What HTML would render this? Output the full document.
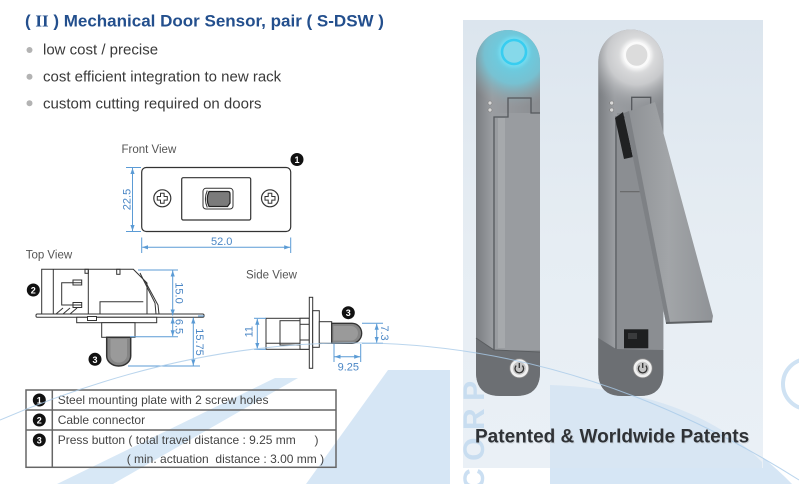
<!DOCTYPE html>
<html><head><meta charset="utf-8"><style>
html,body{margin:0;padding:0;background:#fff;}
svg{display:block;font-family:"Liberation Sans",Arial,sans-serif;}
</style></head><body>
<svg width="799" height="484" viewBox="0 0 799 484" xmlns="http://www.w3.org/2000/svg">
<defs>
 <marker id="ar" markerUnits="userSpaceOnUse" markerWidth="6" markerHeight="6" refX="6" refY="3" orient="auto-start-reverse"><path d="M0,0.9 L6,3 L0,5.1 z" fill="#5b9bd5"/></marker>
 <linearGradient id="pbg" x1="0" y1="0" x2="0" y2="1"><stop offset="0" stop-color="#dce5ee"/><stop offset="0.5" stop-color="#e6edf3"/><stop offset="1" stop-color="#eaf0f6"/></linearGradient>
 <linearGradient id="body2" x1="0" y1="0" x2="1" y2="0"><stop offset="0" stop-color="#7a7d81"/><stop offset="0.25" stop-color="#9a9da1"/><stop offset="1" stop-color="#8a8d91"/></linearGradient>
 <linearGradient id="lever" x1="0" y1="0" x2="1" y2="0"><stop offset="0" stop-color="#8c8f93"/><stop offset="0.5" stop-color="#a2a5a8"/><stop offset="1" stop-color="#8f9296"/></linearGradient>
 <radialGradient id="cy" gradientUnits="userSpaceOnUse" cx="514" cy="54" r="54"><stop offset="0" stop-color="#5fd6ee"/><stop offset="0.55" stop-color="#74c6d8" stop-opacity="0.9"/><stop offset="1" stop-color="#9a9da1" stop-opacity="0"/></radialGradient>
 <radialGradient id="wh" gradientUnits="userSpaceOnUse" cx="637" cy="55" r="54"><stop offset="0" stop-color="#f2f2f2"/><stop offset="0.55" stop-color="#cfd0d2" stop-opacity="0.9"/><stop offset="1" stop-color="#9a9da1" stop-opacity="0"/></radialGradient>
 <filter id="gl" x="-50%" y="-50%" width="200%" height="200%"><feGaussianBlur stdDeviation="1.6"/></filter>
</defs>

<!-- watermark shapes -->
<polygon points="57,484 275,378 298,378 113,484" fill="#d8e8f6"/>
<polygon points="306,484 388,370 450,370 450,484" fill="#d6e6f5"/>
<path d="M550,484 L550,385 Q700,390 792,484 Z" fill="#d6e6f5"/>
<circle cx="808" cy="384" r="25" fill="none" stroke="#cfe2f3" stroke-width="4"/>

<!-- Title -->
<text x="25" y="26.5" font-size="17" font-weight="bold" fill="#234f8d">( <tspan font-family="Liberation Serif, serif">II</tspan> ) Mechanical Door Sensor, pair ( S-DSW )</text>
<circle cx="29.5" cy="50" r="3" fill="#b3b3b3"/>
<circle cx="29.5" cy="76.7" r="3" fill="#b3b3b3"/>
<circle cx="29.5" cy="103.3" r="3" fill="#b3b3b3"/>
<text x="43" y="54.5" font-size="15" fill="#3a3a3a">low cost / precise</text>
<text x="43" y="81.5" font-size="15" fill="#3a3a3a">cost efficient integration to new rack</text>
<text x="43" y="108.3" font-size="15" fill="#3a3a3a">custom cutting required on doors</text>

<!-- Front view -->
<text x="121.5" y="153" font-size="11.5" fill="#555">Front View</text>
<circle cx="297" cy="159.5" r="6.5" fill="#111"/>
<text x="297" y="163" font-size="9" font-weight="bold" fill="#fff" text-anchor="middle">1</text>
<rect x="141.7" y="167.5" width="149" height="64" rx="4.5" fill="#fff" stroke="#333" stroke-width="1.2"/>
<rect x="181.7" y="177.7" width="69" height="42.3" rx="1.5" fill="none" stroke="#333" stroke-width="1.2"/>
<rect x="203" y="188.3" width="30" height="20.7" rx="3" fill="#fff" stroke="#333" stroke-width="1"/>
<path d="M209,191.5 H228 Q230,191.5 230,194 V203 L227.5,206.5 H209 Q205.5,199 209,191.5 Z" fill="#7b7b7b" stroke="#222" stroke-width="1.2"/>
<path d="M207.3,190.5 Q203.5,199 207.3,207.5" fill="none" stroke="#333" stroke-width="1"/>
<circle cx="162.3" cy="198.3" r="8.5" fill="#fff" stroke="#333" stroke-width="1.2"/>
<path d="M160.5,193.3 h3.6 v3.2 h3.2 v3.6 h-3.2 v3.2 h-3.6 v-3.2 h-3.2 v-3.6 h3.2 Z" fill="#fff" stroke="#333" stroke-width="1"/>
<circle cx="270" cy="198.3" r="8.5" fill="#fff" stroke="#333" stroke-width="1.2"/>
<path d="M268.2,193.3 h3.6 v3.2 h3.2 v3.6 h-3.2 v3.2 h-3.6 v-3.2 h-3.2 v-3.6 h3.2 Z" fill="#fff" stroke="#333" stroke-width="1"/>
<g stroke="#5b9bd5" stroke-width="1" fill="none">
 <line x1="126" y1="167.5" x2="141" y2="167.5"/>
 <line x1="126" y1="231.5" x2="141" y2="231.5"/>
 <line x1="132.5" y1="168" x2="132.5" y2="231" marker-start="url(#ar)" marker-end="url(#ar)"/>
 <line x1="141.7" y1="237.5" x2="141.7" y2="253"/>
 <line x1="290.7" y1="237.5" x2="290.7" y2="253"/>
 <line x1="142.2" y1="247.3" x2="290.2" y2="247.3" marker-start="url(#ar)" marker-end="url(#ar)"/>
</g>
<text transform="translate(130.5,199.5) rotate(-90)" font-size="11" fill="#4a86c5" text-anchor="middle">22.5</text>
<text x="221.7" y="245" font-size="11" fill="#4a86c5" text-anchor="middle">52.0</text>

<!-- Top view -->
<text x="25.7" y="258.3" font-size="11.5" fill="#555">Top View</text>
<circle cx="33.3" cy="290" r="6.5" fill="#111"/>
<text x="33.3" y="293.5" font-size="9" font-weight="bold" fill="#fff" text-anchor="middle">2</text>
<g stroke="#333" stroke-width="1" fill="none">
 <path d="M41.7,313.5 V269.3 H133.3 L147,283 V314" fill="#fff"/>
 <line x1="53.3" y1="269.3" x2="53.3" y2="314"/>
 <path d="M81.7,282.7 H61.7 V305 H81.7"/>
 <rect x="73" y="280" width="8.7" height="5"/>
 <rect x="73" y="302.5" width="8.7" height="5"/>
 <line x1="88.3" y1="269.3" x2="88.3" y2="314"/>
 <rect x="85" y="269.3" width="3.3" height="4"/>
 <rect x="116.7" y="269.3" width="3.3" height="5"/>
 <path d="M100,314 V301.7 H143.3"/>
 <path d="M140,273 L155,303 L156,314"/>
 <path d="M145,281 L158,305 L159,314"/>
 <line x1="56" y1="314" x2="63" y2="308"/>
 <line x1="63" y1="314" x2="70" y2="308"/>
 <line x1="70" y1="314" x2="77" y2="308"/>
 <rect x="36" y="314" width="168" height="3.3" rx="1.3" fill="#fff"/>
 <rect x="76.7" y="317.3" width="80" height="5.4" fill="#fff"/>
 <rect x="87.5" y="316.5" width="9" height="4" fill="#fff"/>
 <rect x="101.7" y="322.7" width="33.3" height="14.6" fill="#fff"/>
</g>
<path d="M106.7,337.3 V356 A12,10 0 0 0 130.7,356 V337.3 Z" fill="#858585" stroke="#333" stroke-width="1.5"/>
<path d="M110.5,339 V355 A8.2,7.5 0 0 0 127,355 V339 Z" fill="#9a9a9a"/>
<circle cx="95" cy="359.3" r="6.5" fill="#111"/>
<text x="95" y="362.8" font-size="9" font-weight="bold" fill="#fff" text-anchor="middle">3</text>
<g stroke="#5b9bd5" stroke-width="1" fill="none">
 <line x1="138" y1="270" x2="178" y2="270"/>
 <line x1="204" y1="316" x2="198" y2="316"/>
 <line x1="130" y1="336.7" x2="178" y2="336.7"/>
 <line x1="128" y1="366" x2="200" y2="366"/>
 <line x1="172.7" y1="270.5" x2="172.7" y2="315.5" marker-start="url(#ar)" marker-end="url(#ar)"/>
 <line x1="172.7" y1="317.5" x2="172.7" y2="336.2" marker-start="url(#ar)" marker-end="url(#ar)"/>
 <line x1="193.3" y1="317.5" x2="193.3" y2="365.5" marker-start="url(#ar)" marker-end="url(#ar)"/>
</g>
<text transform="translate(175.5,293) rotate(90)" font-size="11" fill="#4a86c5" text-anchor="middle">15.0</text>
<text transform="translate(175.5,326.5) rotate(90)" font-size="11" fill="#4a86c5" text-anchor="middle">6.5</text>
<text transform="translate(196,342) rotate(90)" font-size="11" fill="#4a86c5" text-anchor="middle">15.75</text>

<!-- Side view -->
<text x="246" y="278.3" font-size="11.5" fill="#555">Side View</text>
<g stroke="#333" stroke-width="1" fill="#fff">
 <rect x="266" y="318.3" width="43.3" height="31"/>
 <rect x="280" y="320.7" width="20" height="24.3"/>
 <line x1="266" y1="343.3" x2="301.7" y2="343.3"/>
 <rect x="300" y="318.3" width="9.3" height="6"/>
 <rect x="300" y="340" width="9.3" height="9.3"/>
 <rect x="309.3" y="297.3" width="3.4" height="71"/>
 <rect x="312.7" y="310.7" width="6.6" height="36.6"/>
 <rect x="319.3" y="321.7" width="12.4" height="21.6"/>
</g>
<path d="M331.7,323.3 H352 A9.7,10 0 0 1 352,343.3 H331.7 Z" fill="#858585" stroke="#333" stroke-width="1.3"/>
<path d="M333.5,326 H351 A7,7.3 0 0 1 351,340.6 H333.5 Z" fill="#9a9a9a"/>
<circle cx="348.3" cy="312.7" r="6.5" fill="#111"/>
<text x="348.3" y="316.2" font-size="9" font-weight="bold" fill="#fff" text-anchor="middle">3</text>
<g stroke="#5b9bd5" stroke-width="1" fill="none">
 <line x1="254" y1="318.3" x2="266" y2="318.3"/>
 <line x1="254" y1="349.3" x2="266" y2="349.3"/>
 <line x1="257.3" y1="318.8" x2="257.3" y2="348.8" marker-start="url(#ar)" marker-end="url(#ar)"/>
 <line x1="362" y1="323.3" x2="383" y2="323.3"/>
 <line x1="362" y1="343.3" x2="383" y2="343.3"/>
 <line x1="376.7" y1="323.8" x2="376.7" y2="342.8" marker-start="url(#ar)" marker-end="url(#ar)"/>
 <line x1="334" y1="344" x2="334" y2="362"/>
 <line x1="360.7" y1="344" x2="360.7" y2="362"/>
 <line x1="334.5" y1="356.7" x2="360.2" y2="356.7" marker-start="url(#ar)" marker-end="url(#ar)"/>
</g>
<text transform="translate(252.5,331.7) rotate(-90)" font-size="11" fill="#4a86c5" text-anchor="middle">11</text>
<text transform="translate(381,333) rotate(90)" font-size="11" fill="#4a86c5" text-anchor="middle">7.3</text>
<text x="348.3" y="370.5" font-size="11" fill="#4a86c5" text-anchor="middle">9.25</text>

<!-- Table -->
<g stroke="#666" stroke-width="1.5" fill="none">
 <rect x="26" y="390" width="310" height="77.3"/>
 <line x1="52.3" y1="390" x2="52.3" y2="467.3"/>
 <line x1="26" y1="410" x2="336" y2="410"/>
 <line x1="26" y1="430" x2="336" y2="430"/>
</g>
<g font-size="9" font-weight="bold" fill="#fff" text-anchor="middle">
 <circle cx="39.3" cy="400" r="6.5" fill="#111"/><text x="39.3" y="403.4">1</text>
 <circle cx="39.3" cy="420" r="6.5" fill="#111"/><text x="39.3" y="423.4">2</text>
 <circle cx="39.3" cy="440" r="6.5" fill="#111"/><text x="39.3" y="443.4">3</text>
</g>
<g font-size="12" fill="#444">
 <text x="57.7" y="403.8">Steel mounting plate with 2 screw holes</text>
 <text x="57.7" y="423.8">Cable connector</text>
 <text x="57.7" y="443.8">Press button ( total travel distance : 9.25 mm</text>
 <text x="314.5" y="443.8">)</text>
 <text x="126.7" y="462.8" style="white-space:pre">( min. actuation  distance : 3.00 mm )</text>
</g>

<!-- Photo -->
<rect x="463" y="20" width="300" height="448" fill="url(#pbg)"/>
<path d="M550,468 L550,385 Q690,390 762,462 L762,468 Z" fill="#d3e4f3" opacity="0.8"/>

<!-- left sensor -->
<path d="M476,62 A32,32 0 0 1 540,62 L540,372 Q540,396 516,396 L500,396 Q476,396 476,372 Z" fill="url(#body2)"/>
<path d="M476,62 A32,32 0 0 1 540,62 L540,110 L476,110 Z" fill="url(#cy)"/>
<rect x="495" y="113" width="45" height="237" fill="#999ca0"/>
<rect x="498" y="118" width="7" height="230" fill="#a6a9ac"/>
<path d="M494,350 L494,117 L508,117 L508,98 L531,98 L531,113 L540,113" fill="none" stroke="#55585c" stroke-width="1.3"/>
<circle cx="490" cy="103" r="2" fill="#d8d8d8" stroke="#777" stroke-width="0.6"/>
<circle cx="490" cy="110" r="2" fill="#d8d8d8" stroke="#777" stroke-width="0.6"/>
<path d="M476,338 L494,350 L540,352 L540,372 Q540,396 516,396 L500,396 Q476,396 476,372 Z" fill="#6c6f73"/>
<path d="M476,338 L494,350 L540,352" fill="none" stroke="#5a5d60" stroke-width="1"/>
<circle cx="514" cy="52" r="13" fill="none" stroke="#7fe6fa" stroke-width="5" opacity="0.6" filter="url(#gl)"/>
<circle cx="514" cy="52" r="12" fill="#86d9ea" stroke="#38cdf0" stroke-width="2.6"/>
<circle cx="519.3" cy="368.3" r="9.5" fill="#f0f0f0" stroke="#888" stroke-width="0.8"/>
<circle cx="519.3" cy="368.3" r="6.5" fill="#c4c4c4"/>
<path d="M516.2,365.6 A4.3,4.3 0 1 0 522.4,365.6" fill="none" stroke="#333" stroke-width="1.3"/>
<line x1="519.3" y1="363" x2="519.3" y2="368" stroke="#333" stroke-width="1.3"/>

<!-- right sensor -->
<path d="M598.3,62 A32.5,32.5 0 0 1 663.3,62 L663.3,372 Q663.3,396 640,396 L622,396 Q598.3,396 598.3,372 Z" fill="url(#body2)"/>
<path d="M598.3,62 A32.5,32.5 0 0 1 663.3,62 L663.3,110 L598.3,110 Z" fill="url(#wh)"/>
<rect x="617" y="113" width="46.3" height="236" fill="#8b8e92"/>
<line x1="620" y1="191.7" x2="640" y2="191.7" stroke="#666" stroke-width="1.2"/>
<path d="M616,350 L616,117 L631.7,117 L631.7,97.3 L650.7,97.3 L650.7,104" fill="none" stroke="#55585c" stroke-width="1.3"/>
<polygon points="615,118 623,112 633,157 624,159" fill="#202122"/>
<circle cx="611.7" cy="103" r="2" fill="#d8d8d8" stroke="#777" stroke-width="0.6"/>
<circle cx="611.7" cy="110" r="2" fill="#d8d8d8" stroke="#777" stroke-width="0.6"/>
<polygon points="624,113 655,102 713,316 712,322 666,323" fill="url(#lever)"/>
<polygon points="624,113 629,111 670,322 666,323" fill="#7e8185"/>
<line x1="666" y1="323" x2="712" y2="321.5" stroke="#5e6164" stroke-width="2"/>
<path d="M598.3,338 L616,349 L663.3,350 L663.3,372 Q663.3,396 640,396 L622,396 Q598.3,396 598.3,372 Z" fill="#6c6f73"/>
<rect x="624" y="329.3" width="24.3" height="19" fill="#1e1f20"/>
<rect x="628" y="333" width="9" height="6" fill="#3a3b3c"/>
<circle cx="636.7" cy="55" r="13" fill="none" stroke="#ffffff" stroke-width="5" opacity="0.7" filter="url(#gl)"/>
<circle cx="636.7" cy="55" r="12" fill="#dcdcdc" stroke="#fafafa" stroke-width="2.6"/>
<circle cx="642.7" cy="368.3" r="9.5" fill="#f0f0f0" stroke="#888" stroke-width="0.8"/>
<circle cx="642.7" cy="368.3" r="6.5" fill="#c4c4c4"/>
<path d="M639.6,365.6 A4.3,4.3 0 1 0 645.8,365.6" fill="none" stroke="#333" stroke-width="1.3"/>
<line x1="642.7" y1="363" x2="642.7" y2="368" stroke="#333" stroke-width="1.3"/>

<!-- watermark overlays -->
<path d="M0,420 Q420,240 799,480" fill="none" stroke="#a9cbe8" stroke-width="1" opacity="0.8"/>
<text transform="translate(484,490) rotate(-90)" font-size="30" font-weight="bold" fill="#c3daf0" opacity="0.85" letter-spacing="7.5">CORP</text>

<text x="476" y="443.5" font-size="19" font-weight="bold" fill="#bfc6cc" opacity="0.6">Patented &amp; Worldwide Patents</text>
<text x="475" y="442.7" font-size="19" font-weight="bold" fill="#2f3236">Patented &amp; Worldwide Patents</text>
</svg>
</body></html>
